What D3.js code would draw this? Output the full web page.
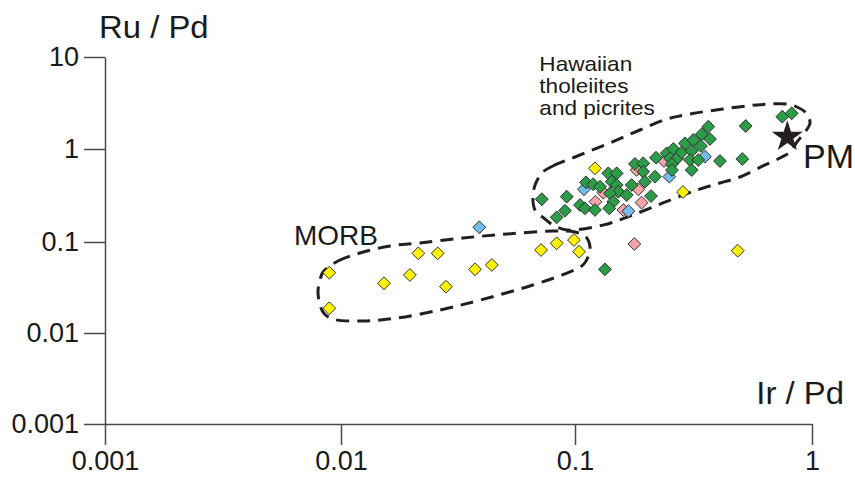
<!DOCTYPE html>
<html>
<head>
<meta charset="utf-8">
<script src="https://cdn.jsdelivr.net/npm/d3@7"></script>
<style>
body { margin: 0; background: #ffffff; }
svg { display: block; font-family: "Liberation Sans", Arial, sans-serif; }
</style>
</head>
<body>
<svg id="drawing_region"></svg>
<script>
// axis ticks
const irTicks = [0.001, 0.01, 0.1, 1];
const irTickLabels = ["0.001", "0.01", "0.1", "1"];
const ruTicks = [0.001, 0.01, 0.1, 1, 10];
const ruTickLabels = ["0.001", "0.01", "0.1", "1", "10"];

// [Ir/Pd, Ru/Pd]
const greenPts = [
    [0.0721, 0.288], [0.0922, 0.307], [0.0906, 0.217], [0.0835, 0.184], [0.1113, 0.438],
    [0.1194, 0.417], [0.1275, 0.393], [0.105, 0.250], [0.1102, 0.230], [0.1214, 0.221],
    [0.1382, 0.548], [0.150, 0.548], [0.1429, 0.445], [0.150, 0.410], [0.1523, 0.347],
    [0.1405, 0.334], [0.145, 0.271], [0.1395, 0.230], [0.1652, 0.320], [0.1734, 0.410],
    [0.179, 0.690], [0.194, 0.702], [0.194, 0.570], [0.1974, 0.445], [0.2093, 0.312],
    [0.2197, 0.806], [0.2176, 0.504], [0.2436, 0.899], [0.260, 1.0], [0.2517, 0.794],
    [0.270, 0.794], [0.256, 0.685], [0.282, 0.922], [0.291, 1.153], [0.3107, 0.952],
    [0.3056, 0.762], [0.3313, 0.762], [0.3107, 0.594], [0.3156, 1.252], [0.3425, 1.445],
    [0.365, 1.747], [0.371, 1.284], [0.340, 1.078], [0.409, 0.743], [0.508, 0.781],
    [0.525, 1.778], [0.749, 2.244], [0.821, 2.443], [0.1338, 0.0501], [0.2566, 0.594]
];
const pinkPts = [
    [0.122, 0.271], [0.1316, 0.339], [0.182, 0.594], [0.185, 0.369],
    [0.191, 0.265], [0.160, 0.221], [0.2374, 0.743], [0.178, 0.0951]
];
const bluePts = [
    [0.1091, 0.369], [0.168, 0.215], [0.250, 0.504], [0.3536, 0.827], [0.0390, 0.144]
];
const yellowPts = [
    [0.1214, 0.620], [0.2855, 0.345], [0.486, 0.0802], [0.00892, 0.046], [0.00892, 0.0187],
    [0.01527, 0.0352], [0.0197, 0.0434], [0.0214, 0.0751], [0.0259, 0.0751], [0.0281, 0.0323],
    [0.0374, 0.0501], [0.0441, 0.0559], [0.0716, 0.0817], [0.0835, 0.0968], [0.099, 0.105],
    [0.104, 0.0782]
];

// primitive mantle
const pmPoint = [0.787, 1.36];

// dashed fields
const hawaiiField = [
    [0.0730, 0.566], [0.0805, 0.657], [0.1, 0.820], [0.1432, 1.191], [0.188, 1.609],
    [0.2445, 2.119], [0.3056, 2.401], [0.421, 2.722], [0.586, 3.008], [0.784, 3.084],
    [0.864, 2.861], [0.943, 2.462], [0.981, 1.917], [0.934, 1.530], [0.864, 1.191],
    [0.808, 0.928], [0.733, 0.800], [0.621, 0.657], [0.497, 0.500], [0.409, 0.431],
    [0.327, 0.362], [0.235, 0.263], [0.1706, 0.190], [0.1313, 0.152], [0.0924, 0.1346],
    [0.0805, 0.152], [0.0744, 0.1767], [0.0675, 0.221], [0.0661, 0.283], [0.0675, 0.410]
];
const morbField = [
    [0.00839, 0.0468], [0.00971, 0.0618], [0.01206, 0.0757], [0.0162, 0.0904], [0.02176, 0.0975],
    [0.0332, 0.1104], [0.0512, 0.1219], [0.0805, 0.1313], [0.1, 0.128], [0.1113, 0.1132],
    [0.1157, 0.0881], [0.1135, 0.0684], [0.1081, 0.0559], [0.0924, 0.0456], [0.0661, 0.0337],
    [0.0393, 0.0230], [0.0265, 0.0179], [0.01735, 0.0146], [0.0124, 0.01355], [0.00925, 0.01425],
    [0.00839, 0.0170], [0.00799, 0.0275], [0.00815, 0.0382]
];

var config = {
    parent: '#drawing_region',
    width: 855,
    height: 480,
    xstops: [105, 341, 575, 812],
    ystops: [424, 333, 242, 149, 57]
};

class LogScatter {

    constructor( config ) {
        this.config = config;
        this.init();
    }

    init() {
        let self = this;

        self.svg = d3.select( self.config.parent )
            .attr('width', self.config.width)
            .attr('height', self.config.height);

        self.xscale = d3.scaleLog()
            .domain( irTicks )
            .range( self.config.xstops );

        self.yscale = d3.scaleLog()
            .domain( ruTicks )
            .range( self.config.ystops );
    }

    render() {
        let self = this;
        const x0 = self.xscale(irTicks[0]);
        const y0 = self.yscale(ruTicks[0]);

        // axes
        const xaxis = d3.axisBottom( self.xscale )
            .tickValues( irTicks )
            .tickFormat( (d, i) => irTickLabels[i] )
            .tickSizeInner(21)
            .tickSizeOuter(0)
            .tickPadding(6);

        const yaxis = d3.axisLeft( self.yscale )
            .tickValues( ruTicks )
            .tickFormat( (d, i) => ruTickLabels[i] )
            .tickSizeInner(21)
            .tickSizeOuter(0)
            .tickPadding(5);

        const xg = self.svg.append('g')
            .attr('transform', `translate(0, ${y0})`)
            .call( xaxis );
        const yg = self.svg.append('g')
            .attr('transform', `translate(${x0}, 0)`)
            .call( yaxis );

        [xg, yg].forEach( g => {
            g.attr('font-family', null).attr('font-size', null);
            g.selectAll('path, line').attr('stroke', '#4a4a4a').attr('stroke-width', 1.5);
            g.selectAll('text').attr('fill', '#1a1a1a').style('font-size', '27px');
        });

        // axis titles
        self.svg.append('text')
            .attr('transform', 'translate(99, 38) scale(1.06, 1)')
            .attr('fill', '#1a1a1a')
            .style('font-size', '31px')
            .text('Ru / Pd');

        self.svg.append('text')
            .attr('transform', 'translate(844, 404) scale(1.06, 1)')
            .attr('text-anchor', 'end')
            .attr('fill', '#1a1a1a')
            .style('font-size', '31px')
            .text('Ir / Pd');

        // dashed fields
        const line = d3.line()
            .x( d => self.xscale(d[0]) )
            .y( d => self.yscale(d[1]) )
            .curve( d3.curveCatmullRomClosed.alpha(0.5) );

        self.svg.selectAll('path.field')
            .data([hawaiiField, morbField])
            .join('path')
            .attr('class', 'field')
            .attr('d', line)
            .attr('fill', 'none')
            .attr('stroke', '#231f20')
            .attr('stroke-width', 3)
            .attr('stroke-dasharray', '13,8');

        // points
        const diamond = d3.symbol( d3.symbolSquare, 82 );
        const groups = [
            { pts: yellowPts, color: '#fff200' },
            { pts: pinkPts,   color: '#f4a3a8' },
            { pts: bluePts,   color: '#74bde9' },
            { pts: greenPts,  color: '#2d9c48' }
        ];
        groups.forEach( grp => {
            self.svg.append('g').selectAll('path')
                .data( grp.pts )
                .join('path')
                .attr('d', diamond)
                .attr('transform', d => `translate(${self.xscale(d[0])}, ${self.yscale(d[1])}) rotate(45)`)
                .attr('fill', grp.color)
                .attr('stroke', '#2a2a2a')
                .attr('stroke-width', 0.9);
        });

        // PM star
        self.svg.append('path')
            .attr('d', d3.symbol( d3.symbolStar, 300 ))
            .attr('transform', `translate(${self.xscale(pmPoint[0])}, ${self.yscale(pmPoint[1])})`)
            .attr('fill', '#231f20');

        self.svg.append('text')
            .attr('x', self.xscale(0.916))
            .attr('y', self.yscale(0.625))
            .attr('fill', '#1a1a1a')
            .style('font-size', '34px')
            .text('PM');

        self.svg.append('text')
            .attr('x', self.xscale(0.00632))
            .attr('y', self.yscale(0.0927))
            .attr('fill', '#1a1a1a')
            .style('font-size', '28px')
            .text('MORB');

        // field label, one text per line
        const hwLines = ['Hawaiian', 'tholeiites', 'and picrites'];
        const hx = self.xscale(0.0704), hy = self.yscale(7.10);
        self.svg.selectAll('text.hw')
            .data(hwLines)
            .join('text')
            .attr('class', 'hw')
            .attr('fill', '#1a1a1a')
            .style('font-size', '20px')
            .attr('transform', (d, i) => `translate(${hx}, ${hy + i * 22.4}) scale(1.13, 1)`)
            .text(d => d);
    }
}

const chart = new LogScatter( config );
chart.render();
</script>
</body>
</html>
